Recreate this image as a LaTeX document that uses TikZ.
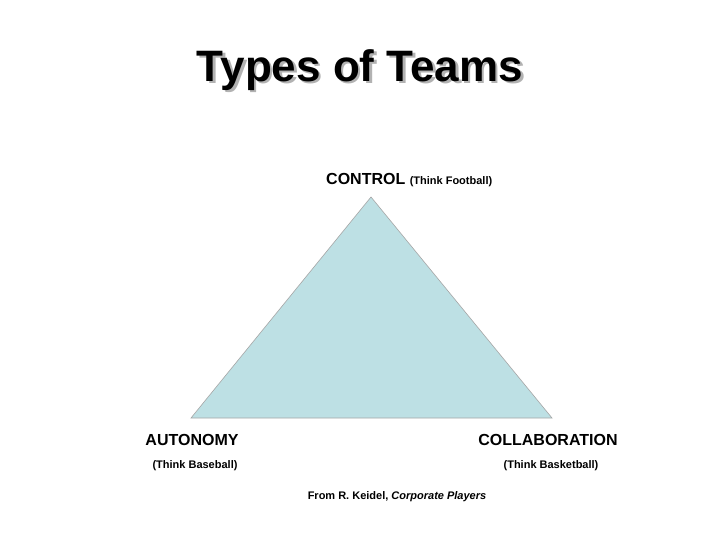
\documentclass[tikz,border=0pt]{standalone}
\usepackage{fontspec}
\setmainfont{Liberation Sans}
\begin{document}
\begin{tikzpicture}[x=1pt,y=-1pt,
  lab/.style={inner sep=0pt,font=\bfseries\fontsize{16}{18}\selectfont},
  sub/.style={inner sep=0pt,font=\bfseries\fontsize{11}{13}\selectfont}]
\useasboundingbox[fill=white] (0,0) rectangle (720,540);
\node (shadow) [text=gray!60, font=\bfseries\fontsize{44}{48}\selectfont] at (362.5,72.5) {Types of Teams};
\node (title) [font=\bfseries\fontsize{44}{48}\selectfont] at (360,70) {Types of Teams};
\coordinate (top) at (371,197);
\coordinate (bl) at (191,418);
\coordinate (br) at (552,418);
\draw[draw=gray!70, fill={rgb,255:red,189;green,224;blue,228}, line width=0.6pt] (top) -- (br) -- (bl) -- cycle;
\node (ctrl) [lab, anchor=base west] at (326,185) {CONTROL {\fontsize{11}{13}\selectfont (Think Football)}};
\node (aut) [lab] at (192,440) {AUTONOMY};
\node (autsub) [sub] at (195,466) {(Think Baseball)};
\node (col) [lab] at (548,440) {COLLABORATION};
\node (colsub) [sub] at (551,466) {(Think Basketball)};
\node (src) [inner sep=0pt, font=\bfseries\fontsize{11}{13}\selectfont] at (397,497) {From R. Keidel, \textit{Corporate Players}};
\end{tikzpicture}
\end{document}
